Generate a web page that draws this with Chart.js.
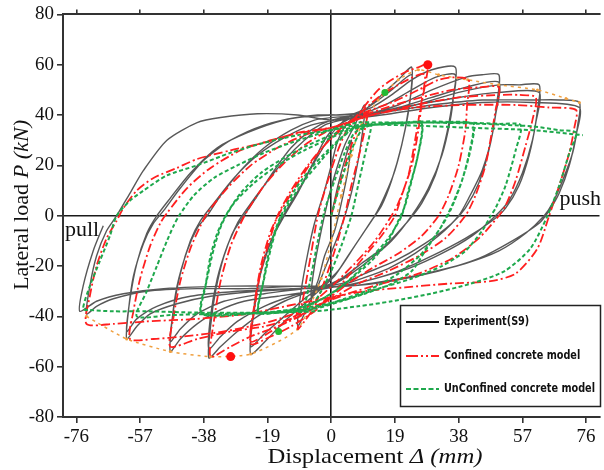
<!DOCTYPE html>
<html><head><meta charset="utf-8">
<script src="https://cdn.jsdelivr.net/npm/chart.js@4.4.0/dist/chart.umd.min.js"></script>
<style>html,body{margin:0;padding:0;background:#fff;}canvas{display:block}</style>
</head><body>
<canvas id="c" width="604" height="470"></canvas>
<script>
const xTickValues = [-76,-57,-38,-19,0,19,38,57,76];
const yTickValues = [-80,-60,-40,-20,0,20,40,60,80];
const seriesNames = ['Experiment(S9)','Confined concrete model','UnConfined concrete model'];
const xTitle = ['Displacement ', 'Δ (mm)'];
const yTitle = ['Lateral load ', 'P (kN)'];
const sideLabels = ['pull', 'push'];

const experimentPts = [[0,0],[2,12],[4,22],[6,30],[5,18],[3,5],[1,-6],[-2,-16],[-4,-26],[-6,-32],[-5,-20],[-3,-6],[-1,6],[1,16],
[4,28],[7,36],[10,44],[9,30],[7,15],[5,4],[2,-8],[-1,-18],[-4,-28],[-7,-36],[-10,-44],[-9,-30],[-7,-15],[-5,-3],[-2,10],[0,20],[2,30],
[5,37],[10,42],[15,48],[20,54],[24,59],[23.5,46],[22,34],[19,18],[16,8],[13,0],[9,-8],[5,-16],[1,-24],[-3,-29],[-8,-35],[-14,-42],[-19,-49],[-24,-55],[-23.5,-42],[-22,-28],[-19,-14],[-16,-4],[-13,3],[-9,12],[-5,22],[-2,30],[1,35],
[6,39],[12,44],[18,50],[24,56],[23,42],[21,28],[18,14],[15,4],[12,-2],[7,-12],[2,-22],[-2,-27],[-8,-33],[-14,-40],[-20,-47],[-24,-52],[-23,-38],[-21,-22],[-18,-10],[-14,0],[-10,9],[-6,19],[-2,28],[1,34],
[6,40],[12,43],[18,48],[24,54],[30,58],[37,59],[36.5,48],[35.5,38],[33,24],[29,11],[24,0],[18,-10],[12,-17],[6,-23],[1,-27],[-6,-30],[-14,-34],[-22,-40],[-28,-46],[-33,-52],[-36.5,-56.5],[-36,-44],[-34.5,-30],[-32,-16],[-29,-6],[-26,0],[-22,8],[-17,18],[-12,27],[-6,34],[0,38],
[8,40],[16,44],[24,50],[31,55],[37,56],[36,44],[34,30],[31,16],[27,5],[23,-2],[16,-12],[9,-19],[3,-25],[-4,-29],[-12,-32],[-20,-36],[-28,-42],[-33,-48],[-36.5,-53],[-36,-40],[-34,-25],[-31,-12],[-28,-3],[-25,3],[-20,12],[-14,22],[-8,30],[-2,36],[3,38],
[10,40],[20,44],[30,50],[40,55],[45,56],[50,56],[49.5,46],[48,32],[45,18],[41,7],[38,0],[32,-8],[25,-15],[17,-21],[9,-25],[2,-28],[-6,-30],[-16,-32],[-26,-34],[-34,-38],[-40,-43],[-45,-49],[-48,-54],[-47.5,-42],[-46,-28],[-43,-14],[-40,-5],[-37,0],[-33,8],[-27,18],[-20,27],[-12,34],[-5,38],[0,39],
[10,40],[20,43],[30,47],[40,51],[50,53],[49,40],[47,26],[44,13],[40,3],[36,-3],[28,-11],[19,-18],[10,-23],[3,-27],[-8,-29],[-20,-31],[-32,-34],[-40,-39],[-45,-45],[-48,-50],[-47,-37],[-45,-23],[-42,-10],[-39,-2],[-35,5],[-29,15],[-22,24],[-14,31],[-6,36],[1,38],
[12,40],[25,44],[38,49],[50,52],[56,52],[62,52],[61.5,42],[60,30],[57,17],[53,6],[49,0],[42,-8],[33,-15],[23,-21],[13,-25],[4,-28],[-8,-29],[-22,-30],[-36,-32],[-46,-35],[-54,-39],[-58,-44],[-61,-49],[-60.5,-38],[-59,-24],[-56,-11],[-53,-3],[-50,2],[-45,11],[-38,22],[-30,30],[-20,36],[-10,39],[0,40],
[12,41],[25,44],[38,47],[50,49],[62,49],[61,37],[59,24],[56,12],[52,3],[48,-2],[40,-9],[30,-16],[20,-22],[10,-26],[2,-28],[-12,-29],[-28,-30],[-42,-32],[-52,-36],[-58,-41],[-61,-46],[-60,-33],[-58,-19],[-55,-7],[-52,0],[-48,7],[-42,17],[-34,27],[-25,33],[-14,38],[-4,40],[2,40],
[15,41],[30,44],[45,46],[60,46],[68,46],[74,45],[73.5,36],[72,25],[69,14],[66,5],[63.5,0],[58,-7],[50,-14],[40,-19],[28,-23],[16,-26],[5,-28],[-10,-28],[-25,-29],[-40,-29],[-55,-30],[-65,-33],[-70,-36],[-73,-39],[-72,-28],[-70,-16],[-67,-6],[-64,0],[-60,9],[-56,18],[-49,30],[-40,37],[-33,39],[-22,40.5],[-10,40],[0,38],
[15,40],[30,43],[45,45],[60,45],[74,43],[73,32],[71,20],[68,9],[65,2],[62,-3],[54,-10],[44,-17],[32,-22],[18,-26],[5,-28],[-10,-28],[-30,-28],[-50,-29],[-62,-31],[-70,-34],[-75,-38],[-74,-28],[-71,-14],[-68,-4]];

const confinedPts = [[0,0],[3,15],[6,28],[9,38],[11,42],[9,28],[6,12],[4,0],[1,-14],[-2,-26],[-5,-36],[-8,-42],[-10,-45],[-8,-30],[-6,-15],[-4,0],[-1,14],[2,26],[5,35],
[9,42],[14,50],[18,54],[22,57],[26,59],[28.8,60],[27,45],[26,34],[24,20],[21,8],[19,0],[15,-8],[10,-16],[5,-24],[0,-32],[-5,-38],[-12,-44],[-18,-48],[-24,-51],[-23,-38],[-21,-22],[-18,-8],[-16,0],[-12,10],[-7,20],[-2,28],[2,33],
[8,40],[14,47],[20,52],[26,56],[28,56],[26.5,42],[25,30],[23,16],[20,5],[18,0],[13,-10],[7,-19],[1,-27],[-5,-34],[-12,-41],[-18,-46],[-24,-50],[-23,-36],[-21,-20],[-18,-6],[-15,2],[-10,13],[-5,23],[0,31],[4,36],
[10,41],[18,45],[26,50],[32,54],[37,55],[41,54],[40.5,44],[40,34],[38,20],[35,8],[32,0],[27,-8],[20,-15],[12,-21],[5,-27],[0,-32],[-8,-39],[-16,-44],[-24,-48],[-30,-52],[-36,-56],[-35,-42],[-33,-26],[-30,-12],[-27,-3],[-25,2],[-20,12],[-14,21],[-8,28],[-2,33],[3,36],
[12,41],[24,46],[36,50],[44,51],[50,51],[49,42],[48,34],[46,20],[43,8],[40,0],[34,-9],[26,-16],[17,-22],[8,-27],[0,-33],[-10,-40],[-20,-44],[-30,-46],[-40,-49],[-48,-52],[-47,-40],[-45,-26],[-42,-13],[-39,-4],[-37,1],[-31,11],[-24,20],[-16,27],[-8,32],[0,35],
[12,40],[25,44],[38,47],[50,48],[56,48],[61,47],[60,38],[58,28],[55,14],[52,4],[50,0],[44,-9],[36,-17],[26,-23],[15,-27],[5,-31],[-5,-36],[-18,-42],[-32,-46],[-44,-48],[-53,-49],[-60,-49],[-59,-38],[-57,-25],[-54,-12],[-51,-3],[-49,1],[-43,11],[-36,19],[-27,26],[-18,30],[-9,33],[0,35],
[12,40],[25,43],[40,44],[55,44],[65,43],[73,42],[72.5,35],[71,25],[68,12],[66,4],[65,0],[61.5,-13],[55,-23],[47.5,-26],[35,-27],[22,-28.5],[10,-30],[-10,-35],[-25,-39],[-40,-41],[-55,-42],[-65,-43],[-73,-43],[-72,-32],[-70,-20],[-67,-9],[-64,-2],[-62,3],[-58,10],[-53,15],[-46,19],[-40,22.5],[-30,26],[-20,29],[-10,33],[0,35],[8,38]];

const unconfinedPts = [[0,0],[3,14],[6,26],[9,34],[12,37],[10,24],[8,12],[6,0],[3,-12],[0,-22],[-3,-30],[-6,-36],[-8,-38],[-6,-24],[-4,-10],[-2,2],[1,14],[4,25],[7,33],
[12,36],[18,37],[23,37],[27,37],[26,25],[24,14],[22,4],[20,-2],[17,-10],[12,-18],[6,-25],[1,-30],[-4,-34],[-10,-37],[-16,-38],[-21.7,-38.5],[-20.5,-28],[-19,-17],[-17,-7],[-15,0],[-11,10],[-6,19],[-1,26],[3,31],[7,35],
[12,36],[20,36.5],[27,36.5],[25.5,22],[23,10],[21,0],[17,-9],[11,-18],[5,-26],[0,-31],[-6,-35],[-14,-38],[-21.7,-38.5],[-20,-25],[-18,-13],[-16,-4],[-13,4],[-8,14],[-3,22],[1,28],[6,34],
[12,36],[20,37],[30,37.5],[38,37],[42.5,36.5],[41.5,26],[39,14],[36,4],[34.5,0],[32.5,-5],[28,-14],[24,-22],[18,-27],[10,-31],[3,-34],[-5,-37],[-15,-38.5],[-28,-39],[-38.6,-39],[-37.5,-28],[-36,-16],[-34,-7],[-31.5,0],[-27,9],[-21,17],[-14,23],[-7,28],[0,32],[6,35],
[12,36],[22,37],[32,37],[42,36.5],[41,24],[38.5,12],[35.5,2],[33,-4],[27,-15],[20,-23],[12,-29],[4,-33],[-6,-37],[-20,-38.5],[-38.6,-38.8],[-37,-25],[-35,-13],[-32.5,-3],[-29,5],[-23,13],[-16,20],[-8,26],[0,31],[7,35],
[12,36],[25,37],[40,37],[50,36.5],[56.5,36],[55,26],[52,12],[49,3],[47.6,0],[45,-6],[40,-14],[33,-20],[24,-25],[14,-29],[5,-33],[-5,-36],[-20,-38.5],[-35,-39],[-48,-39.5],[-58,-40],[-55,-30],[-52,-20],[-49,-10],[-47,-4],[-45.4,0],[-41,8],[-35,15],[-28,20],[-20,25],[-12,29],[-5,32],[2,35],[8,37],
[15,37],[30,37],[45,36.5],[60,35.5],[68,34],[73,33],[71,25],[68,12],[64.5,0],[59.4,-13],[51.7,-22],[41.6,-27],[29.7,-31],[18,-34],[8,-36],[-5,-38],[-20,-38.5],[-40,-38.5],[-55,-38],[-65,-38],[-72,-37.5],[-74,-37],[-72,-28],[-69,-18],[-66,-8],[-64,0],[-60,6],[-56,10],[-49,16],[-40,20],[-30,25],[-20,29],[-10,32],[0,34],[8,36],[20,36],[40,35],[60,34],[75,32]];

const backbonePts = [[-73,-40],[-61,-49],[-48,-54],[-36,-56],[-24,-55],[-10,-45],[-3,-25],[0,-10],[3,8],[6,24],[9,36],[14,46],[20,54],[26,58],[32,56],[40.7,54],[50,52],[61.5,50],[70,46.6],[74,45]];
const confinedPeaks = [[28.8,60],[-30,-56]];
const unconfinedPeaks = [[16,49],[-15.7,-46]];

const toXY = a => a.map(p => ({x: p[0], y: p[1]}));
const setXTicks = s => { s.ticks = xTickValues.map(v => ({value: v})); };
const setYTicks = s => { s.ticks = yTickValues.map(v => ({value: v})); };
const zeroOnly = c => (c.tick && c.tick.value === 0) ? '#1a1a1a' : 'rgba(0,0,0,0)';

function drawMixed(ctx, parts, size, target) {
  const fonts = [size + 'px "Liberation Serif"', 'italic ' + size + 'px "Liberation Serif"'];
  let widths = parts.map((t, i) => { ctx.font = fonts[i]; return ctx.measureText(t).width; });
  const total = widths.reduce((a, b) => a + b, 0);
  const s = target / total;
  ctx.scale(s, 1);
  let x = -total / 2;
  ctx.textAlign = 'left';
  ctx.textBaseline = 'alphabetic';
  ctx.fillStyle = '#111';
  parts.forEach((t, i) => { ctx.font = fonts[i]; ctx.fillText(t, x, 0); x += widths[i]; });
}

const decor = {
  id: 'decor',
  afterDraw(chart) {
    const ctx = chart.ctx;
    ctx.save(); ctx.translate(375, 463); drawMixed(ctx, xTitle, 22, 215); ctx.restore();
    ctx.save(); ctx.translate(28, 205); ctx.rotate(-Math.PI / 2); drawMixed(ctx, yTitle, 22, 170); ctx.restore();
    ctx.save();
    ctx.font = '22px "Liberation Serif"'; ctx.fillStyle = '#111'; ctx.textBaseline = 'alphabetic';
    ctx.textAlign = 'left'; ctx.fillText(sideLabels[0], 65, 236);
    ctx.textAlign = 'right'; ctx.fillText(sideLabels[1], 601, 205);
    ctx.restore();
    // legend
    ctx.save();
    ctx.fillStyle = '#fff'; ctx.fillRect(400, 305, 201, 102);
    ctx.strokeStyle = '#222'; ctx.lineWidth = 1.5; ctx.strokeRect(400.5, 305.5, 200, 101);
    const rows = [322, 356, 389];
    const styles = [
      {c: '#111', w: 2.2, d: []},
      {c: '#ff1f1f', w: 2.2, d: [12, 3, 2, 3, 2, 3]},
      {c: '#1ea84c', w: 2.2, d: [5, 2.5]}
    ];
    const lf = 'bold 13px "DejaVu Sans Condensed", "DejaVu Sans"';
    ctx.font = lf;
    const sx = 151 / ctx.measureText(seriesNames[2]).width;
    rows.forEach((y, i) => {
      ctx.beginPath(); ctx.setLineDash(styles[i].d); ctx.strokeStyle = styles[i].c; ctx.lineWidth = styles[i].w;
      ctx.moveTo(406, y); ctx.lineTo(439, y); ctx.stroke();
      ctx.setLineDash([]);
      ctx.save();
      ctx.translate(444, y); ctx.scale(sx, 1);
      ctx.font = lf; ctx.fillStyle = '#111';
      ctx.textAlign = 'left'; ctx.textBaseline = 'middle';
      ctx.fillText(seriesNames[i], 0, 0);
      ctx.restore();
    });
    ctx.restore();
  }
};

new Chart(document.getElementById('c'), {
  type: 'scatter',
  data: { datasets: [
    {label: seriesNames[0], data: toXY(experimentPts), showLine: true, borderColor: '#585858', borderWidth: 1.4, pointRadius: 0, tension: 0.25, order: 5},
    {label: seriesNames[1], data: toXY(confinedPts), showLine: true, borderColor: '#ff1f1f', borderWidth: 1.8, borderDash: [9, 3, 2, 3], pointRadius: 0, tension: 0.25, order: 3},
    {label: seriesNames[2], data: toXY(unconfinedPts), showLine: true, borderColor: '#1ea84c', borderWidth: 2, borderDash: [4, 2.5], pointRadius: 0, tension: 0.25, order: 2},
    {label: 'backbone', data: toXY(backbonePts), showLine: true, borderColor: '#f0a040', borderWidth: 1.5, borderDash: [3, 4], pointRadius: 1.5, pointBackgroundColor: '#f0a040', pointBorderWidth: 0, tension: 0.2, order: 4},
    {label: 'peakC', data: toXY(confinedPeaks), showLine: false, pointRadius: 4.5, pointBackgroundColor: '#ff1010', pointBorderWidth: 0, order: 1},
    {label: 'peakU', data: toXY(unconfinedPeaks), showLine: false, pointRadius: 3.5, pointBackgroundColor: '#22bb33', pointBorderWidth: 0, order: 1}
  ]},
  options: {
    responsive: false, animation: false, devicePixelRatio: 1,
    layout: {padding: {left: 0, right: 2, top: 0, bottom: 0}},
    plugins: {legend: {display: false}, tooltip: {enabled: false}},
    scales: {
      x: {type: 'linear', position: 'bottom', min: -80, max: 80, afterBuildTicks: setXTicks, afterFit: s => { s.height = 53; },
        ticks: {font: {family: '"Liberation Serif"', size: 19}, color: '#111', padding: 3, maxRotation: 0, autoSkip: false},
        grid: {color: zeroOnly, lineWidth: 1.6, tickColor: '#333', tickLength: 6},
        border: {color: '#333', width: 2}},
      x2: {type: 'linear', position: 'top', min: -80, max: 80, afterBuildTicks: setXTicks, afterFit: s => { s.height = 12; },
        ticks: {display: false},
        grid: {drawOnChartArea: false, tickColor: '#333', tickLength: 5, lineWidth: 1.6},
        border: {color: '#333', width: 2}},
      y: {type: 'linear', min: -80, max: 80, afterBuildTicks: setYTicks, afterFit: s => { s.width = 63; },
        ticks: {font: {family: '"Liberation Serif"', size: 19}, color: '#111', padding: 3},
        grid: {color: zeroOnly, lineWidth: 1.6, tickColor: '#333', tickLength: 6},
        border: {color: '#333', width: 2}}
    }
  },
  plugins: [decor]
});
</script>
</body></html>
